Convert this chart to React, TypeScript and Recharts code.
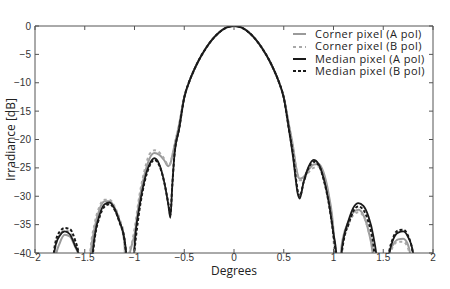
import React from 'react';
import { Legend, Line, LineChart, XAxis, YAxis } from 'recharts';

// angle ticks (degrees) and irradiance ticks (dB)
const degreeTicks = [-2, -1.5, -1, -0.5, 0, 0.5, 1, 1.5, 2];
const dbTicks = [0, -5, -10, -15, -20, -25, -30, -35, -40];

// main lobe is common to all four curves
const mainLobe: [number, number][] = [
  [-0.5, -12.6], [-0.45, -9.8], [-0.4, -7.7], [-0.35, -5.9], [-0.3, -4.4], [-0.25, -3.1],
  [-0.2, -2.0], [-0.15, -1.15], [-0.1, -0.5], [-0.05, -0.12], [0, 0], [0.05, -0.12],
  [0.1, -0.5], [0.15, -1.15], [0.2, -2.0], [0.25, -3.1], [0.3, -4.4], [0.35, -5.9],
  [0.4, -7.7], [0.45, -9.8], [0.5, -12.6],
];

const cornerALeft: [number, number][] = [
  [-1.9, -70], [-1.85, -55], [-1.8, -41.5], [-1.75, -38.2], [-1.7, -36.8], [-1.65, -37.1],
  [-1.6, -38.8], [-1.55, -41], [-1.5, -65], [-1.45, -42], [-1.4, -35.5], [-1.35, -32.2],
  [-1.3, -30.9], [-1.25, -30.9], [-1.2, -32], [-1.15, -34.3], [-1.1, -38.5], [-1.08, -50],
  [-1.05, -40.5], [-1.03, -38.8], [-1.0, -36.8], [-0.95, -30.5], [-0.9, -26.2], [-0.85, -23.4],
  [-0.8, -22.4], [-0.75, -22.7], [-0.7, -23.7], [-0.66, -24.7], [-0.64, -24.3], [-0.62, -22.8],
  [-0.6, -21.2], [-0.55, -17.2],
];
const cornerARight: [number, number][] = [
  [0.55, -17.2], [0.6, -22], [0.62, -24.5], [0.64, -26.2], [0.66, -26.9], [0.7, -26.6],
  [0.75, -25.3], [0.8, -24.4], [0.85, -24.3], [0.9, -25.8], [0.95, -29.5], [1.0, -36],
  [1.03, -45], [1.05, -60], [1.08, -39], [1.1, -37], [1.15, -34.5], [1.2, -32.8],
  [1.25, -32.4], [1.3, -33.3], [1.35, -36], [1.4, -41], [1.45, -55], [1.5, -65],
  [1.55, -40.5], [1.6, -38.5], [1.65, -37.6], [1.7, -37.5], [1.75, -38.6], [1.8, -45],
  [1.85, -60], [1.9, -70],
];

const cornerBLeft: [number, number][] = [
  [-1.9, -70], [-1.85, -52], [-1.8, -39.5], [-1.75, -36.8], [-1.7, -36], [-1.65, -36.4],
  [-1.6, -38.2], [-1.55, -42], [-1.5, -65], [-1.45, -41], [-1.4, -34.8], [-1.35, -31.7],
  [-1.3, -30.6], [-1.25, -30.6], [-1.2, -31.8], [-1.15, -34], [-1.1, -37.5], [-1.08, -60],
  [-1.05, -39.5], [-1.03, -38.5], [-1.0, -35.8], [-0.95, -29.8], [-0.9, -25.5], [-0.85, -22.6],
  [-0.8, -21.9], [-0.75, -22.3], [-0.7, -23.4], [-0.66, -24.6], [-0.64, -24.2], [-0.62, -22.8],
  [-0.6, -21.2], [-0.55, -17.2],
];
const cornerBRight: [number, number][] = [
  [0.55, -17.2], [0.6, -22], [0.62, -24.5], [0.64, -26.3], [0.66, -27.2], [0.7, -27],
  [0.75, -25.8], [0.8, -25], [0.85, -24.8], [0.9, -26.2], [0.95, -30], [1.0, -37.5],
  [1.03, -50], [1.05, -60], [1.08, -40], [1.1, -38], [1.15, -35], [1.2, -33.3],
  [1.25, -32.8], [1.3, -33.5], [1.35, -36], [1.4, -40], [1.45, -55], [1.5, -65],
  [1.55, -42], [1.6, -38.8], [1.65, -38], [1.7, -38], [1.75, -39.2], [1.8, -48],
  [1.85, -60], [1.9, -70],
];

const medianALeft: [number, number][] = [
  [-1.9, -70], [-1.85, -52], [-1.8, -39.2], [-1.75, -36.9], [-1.7, -36.2], [-1.65, -36.7],
  [-1.6, -38.6], [-1.55, -41], [-1.5, -65], [-1.45, -46], [-1.4, -37], [-1.35, -33.2],
  [-1.3, -31.4], [-1.25, -31.1], [-1.2, -32.2], [-1.15, -34.5], [-1.1, -37.6], [-1.08, -40.5],
  [-1.05, -47], [-1.03, -65], [-1.0, -39], [-0.95, -31.8], [-0.9, -27.2], [-0.85, -24.4],
  [-0.8, -23.3], [-0.75, -24.4], [-0.7, -27.6], [-0.66, -31.5], [-0.64, -33.8], [-0.62, -28],
  [-0.6, -23], [-0.55, -18],
];
const medianARight: [number, number][] = [
  [0.55, -18], [0.6, -24], [0.62, -27], [0.64, -29.5], [0.66, -30.4], [0.7, -27.5],
  [0.75, -24.8], [0.8, -23.6], [0.85, -24.3], [0.9, -26.8], [0.95, -30.8], [1.0, -36.6],
  [1.03, -40.5], [1.05, -55], [1.08, -40.2], [1.1, -37.6], [1.15, -34.3], [1.2, -32],
  [1.25, -31.2], [1.3, -31.7], [1.35, -33.5], [1.4, -37], [1.45, -44], [1.5, -65],
  [1.55, -41.5], [1.6, -37.6], [1.65, -36.4], [1.7, -36.2], [1.75, -37.2], [1.8, -40],
  [1.85, -52], [1.9, -70],
];

const medianBLeft: [number, number][] = [
  [-1.9, -70], [-1.85, -50], [-1.8, -38.6], [-1.75, -36.2], [-1.7, -35.6], [-1.65, -35.8],
  [-1.6, -37.6], [-1.55, -41.5], [-1.5, -65], [-1.45, -47], [-1.4, -37.5], [-1.35, -33.6],
  [-1.3, -31.8], [-1.25, -31.4], [-1.2, -32.4], [-1.15, -34.6], [-1.1, -37.8], [-1.08, -41],
  [-1.05, -52], [-1.03, -45], [-1.0, -39.5], [-0.95, -32.4], [-0.9, -27.6], [-0.85, -24.7],
  [-0.8, -23.6], [-0.75, -24.6], [-0.7, -27.6], [-0.66, -31.3], [-0.64, -33.2], [-0.62, -28],
  [-0.6, -23], [-0.55, -18],
];
const medianBRight: [number, number][] = [
  [0.55, -18], [0.6, -23.5], [0.62, -26.5], [0.64, -29], [0.66, -30], [0.7, -27.5],
  [0.75, -25], [0.8, -23.9], [0.85, -24.5], [0.9, -27], [0.95, -31], [1.0, -37],
  [1.03, -42], [1.05, -55], [1.08, -41], [1.1, -38], [1.15, -35], [1.2, -32.6],
  [1.25, -31.8], [1.3, -32.4], [1.35, -34.5], [1.4, -38.5], [1.45, -48], [1.5, -65],
  [1.55, -41], [1.6, -37.3], [1.65, -36], [1.7, -35.9], [1.75, -37], [1.8, -40.5],
  [1.85, -52], [1.9, -70],
];

const toPoints = (...parts: [number, number][][]) =>
  parts.flat().map(([x, y]) => ({ x, y }));

const series = [
  { name: 'Corner pixel (A pol)', data: toPoints(cornerALeft, mainLobe, cornerARight), color: '#9a9a9a', dash: undefined, width: 2 },
  { name: 'Corner pixel (B pol)', data: toPoints(cornerBLeft, mainLobe, cornerBRight), color: '#a8a8a8', dash: '3 3', width: 2 },
  { name: 'Median pixel (A pol)', data: toPoints(medianALeft, mainLobe, medianARight), color: '#1a1a1a', dash: undefined, width: 1.8 },
  { name: 'Median pixel (B pol)', data: toPoints(medianBLeft, mainLobe, medianBRight), color: '#1a1a1a', dash: '3 2', width: 2 },
];

const axisColor = '#555';
const tickFont = { fontSize: 10, fill: '#333', fontFamily: '"Liberation Sans", Arial, sans-serif' };
const labelFont = '"Open Sans", "Noto Sans", sans-serif';
const fmt = (v: number) => String(v).replace('-', '\u2212');

function LegendBox() {
  return (
    <div style={{ fontFamily: labelFont, fontSize: 11, letterSpacing: 0.45, color: '#222', lineHeight: '12.4px' }}>
      {series.map((s) => (
        <div key={s.name} style={{ display: 'flex', alignItems: 'center', height: 12.4 }}>
          <svg width={24} height={12} style={{ flex: 'none' }}>
            <line x1={2} x2={15} y1={6} y2={6} stroke={s.color} strokeWidth={2} strokeDasharray={s.dash} />
          </svg>
          <span style={{ whiteSpace: 'nowrap' }}>{s.name}</span>
        </div>
      ))}
    </div>
  );
}

export default function App() {
  return (
    <div style={{ position: 'fixed', left: 0, top: 0, width: 450, height: 289, background: '#fff' }}>
      <LineChart width={450} height={289} margin={{ top: 25, right: 16, left: 0, bottom: 0 }}>
        <XAxis
          type="number"
          dataKey="x"
          domain={[-2, 2]}
          ticks={degreeTicks}
          allowDataOverflow
          height={36}
          stroke={axisColor}
          tickSize={-4}
          tickMargin={5}
          tick={tickFont}
          tickFormatter={fmt}
          label={{
            content: ({ viewBox }: any) => (
              <text x={viewBox.x + viewBox.width / 2} y={viewBox.y + 22} textAnchor="middle"
                style={{ fontFamily: labelFont, fontSize: 12, fill: '#222' }}>Degrees</text>
            ),
          }}
        />
        <XAxis
          xAxisId="top"
          orientation="top"
          type="number"
          dataKey="x"
          domain={[-2, 2]}
          ticks={degreeTicks}
          allowDataOverflow
          height={1}
          stroke={axisColor}
          tickSize={-4}
          tickFormatter={() => ''}
        />
        <YAxis
          type="number"
          domain={[-40, 0]}
          ticks={dbTicks}
          allowDataOverflow
          width={35}
          stroke={axisColor}
          tickSize={-4}
          tickMargin={8}
          tick={tickFont}
          tickFormatter={fmt}
          label={{
            content: ({ viewBox }: any) => {
              const cx = 10.5;
              const cy = viewBox.y + viewBox.height / 2;
              return (
                <text x={cx} y={cy} textAnchor="middle" dominantBaseline="central"
                  transform={`rotate(-90 ${cx} ${cy})`}
                  style={{ fontFamily: labelFont, fontSize: 12, fill: '#222' }}>Irradiance [dB]</text>
              );
            },
          }}
        />
        <YAxis
          yAxisId="right"
          orientation="right"
          type="number"
          domain={[-40, 0]}
          ticks={dbTicks}
          allowDataOverflow
          width={1}
          stroke={axisColor}
          tickSize={-4}
          tickFormatter={() => ''}
        />
        {/* invisible copy of the main lobe so the top/right frame axes get drawn */}
        <Line
          xAxisId="top"
          yAxisId="right"
          data={toPoints(mainLobe)}
          dataKey="y"
          stroke="none"
          dot={false}
          activeDot={false}
          legendType="none"
          isAnimationActive={false}
        />
        {series.map((s) => (
          <Line
            key={s.name}
            data={s.data}
            dataKey="y"
            type="monotone"
            stroke={s.color}
            strokeWidth={s.width}
            strokeDasharray={s.dash}
            dot={false}
            activeDot={false}
            isAnimationActive={false}
          />
        ))}
        <Legend
          layout="horizontal"
          verticalAlign="middle"
          align="center"
          wrapperStyle={{ top: 28, left: 291, width: 159, height: 52 }}
          content={() => <LegendBox />}
        />
      </LineChart>
    </div>
  );
}
